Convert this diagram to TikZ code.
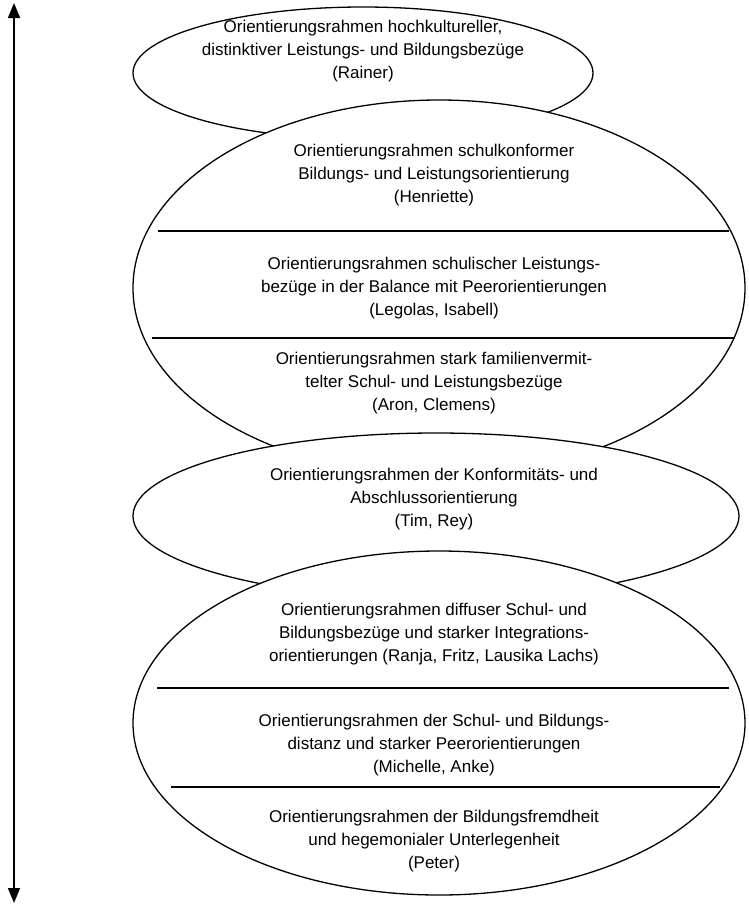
\documentclass[tikz,border=0pt]{standalone}
\usepackage{fontspec}
\setmainfont{Liberation Sans}
\usetikzlibrary{shapes.geometric,arrows.meta,positioning}

\begin{document}
\begin{tikzpicture}[x=1pt, y=-1pt,
				frame/.style={ellipse, draw=black, line width=1.3pt, fill=white, inner sep=0pt},
				label/.style={align=center, font=\fontsize{17}{23}\selectfont},
				divider/.style={line width=1.3pt},
				thickdivider/.style={line width=2pt}
			]
			\useasboundingbox (0,0) rectangle (749,906);
			% axis
			\coordinate (axistop) at (14,3);
			\coordinate (axisbottom) at (14,903);
			\draw[line width=1.6pt, {Triangle[width=12pt,length=15pt]}-{Triangle[width=12pt,length=15pt]}] (axistop) -- (axisbottom);
			% ellipses, each one covering the one above
			\node[frame, minimum width=460pt, minimum height=132pt] (one) at (363,73) {};
			\node[frame, minimum width=612pt, minimum height=376pt] (two) at (439,288) {};
			\node[frame, minimum width=606pt, minimum height=166pt] (three) at (436,516) {};
			\node[frame, minimum width=612pt, minimum height=344pt] (four) at (439,723) {};
			% texts
			\node[label] (rainer) at (363,51) {Orientierungsrahmen hochkultureller,\\distinktiver Leistungs- und Bildungsbezüge\\(Rainer)};
			\node[label] (henriette) at (434,175) {Orientierungsrahmen schulkonformer\\Bildungs- und Leistungsorientierung\\(Henriette)};
			\node[label] (legolas) at (434,288) {Orientierungsrahmen schulischer Leistungs-\\bezüge in der Balance mit Peerorientierungen\\(Legolas, Isabell)};
			\node[label] (aron) at (434,383) {Orientierungsrahmen stark familienvermit-\\telter Schul- und Leistungsbezüge\\(Aron, Clemens)};
			\node[label] (tim) at (434,499) {Orientierungsrahmen der Konformitäts- und\\Abschlussorientierung\\(Tim, Rey)};
			\node[label] (ranja) at (434,634) {Orientierungsrahmen diffuser Schul- und\\Bildungsbezüge und starker Integrations-\\orientierungen (Ranja, Fritz, Lausika Lachs)};
			\node[label] (michelle) at (434,745) {Orientierungsrahmen der Schul- und Bildungs-\\distanz und starker Peerorientierungen\\(Michelle, Anke)};
			\node[label] (peter) at (434,841) {Orientierungsrahmen der Bildungsfremdheit\\und hegemonialer Unterlegenheit\\(Peter)};
			% dividers
			\coordinate (twoaleft) at (158,231);
			\coordinate (twoaright) at (729,231);
			\coordinate (twobleft) at (152,338);
			\coordinate (twobright) at (735,338);
			\coordinate (fouraleft) at (157,688);
			\coordinate (fouraright) at (729,688);
			\coordinate (fourbleft) at (171,787);
			\coordinate (fourbright) at (720,787);
			\draw[thickdivider] (twoaleft) -- (twoaright);
			\draw[thickdivider] (twobleft) -- (twobright);
			\draw[divider] (fouraleft) -- (fouraright);
			\draw[divider] (fourbleft) -- (fourbright);
\end{tikzpicture}
\end{document}
